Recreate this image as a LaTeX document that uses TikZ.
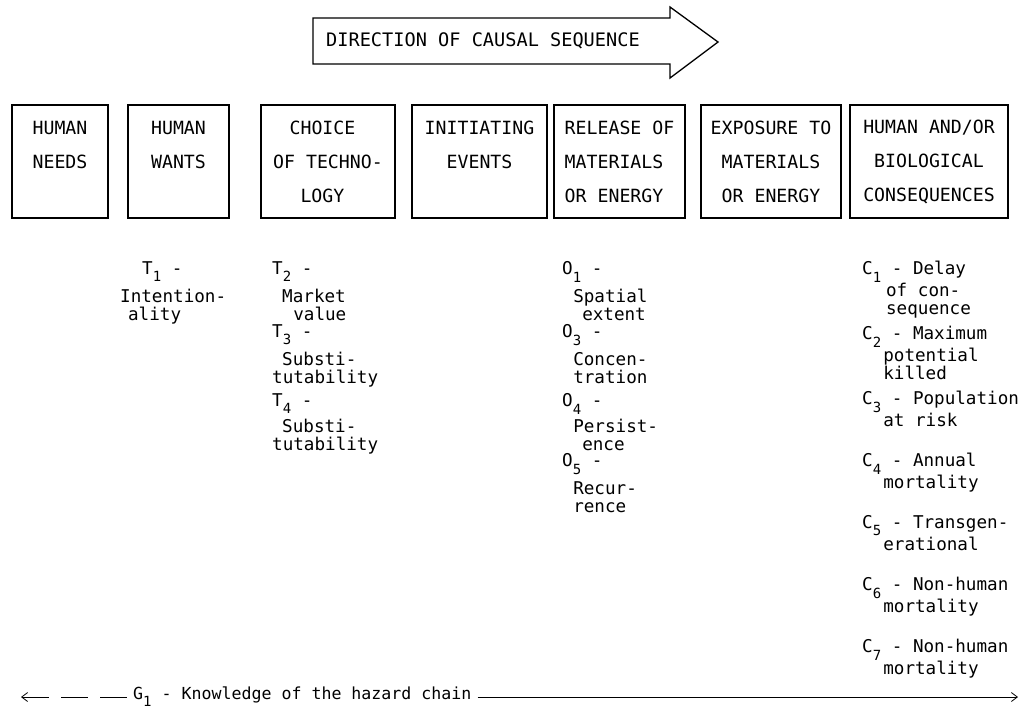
\documentclass[tikz,border=0pt]{standalone}
\usepackage{fontspec}
\usepackage{tikz}
\usetikzlibrary{arrows.meta}
\newfontfamily\typer{DejaVu Sans Mono}
\newcommand{\lowidx}[1]{\raisebox{-0.75ex}{\fontsize{14}{14}\selectfont #1}}

\begin{document}
\begin{tikzpicture}[x=1pt, y=-1pt,
  stage/.style={draw=black, line width=1.3pt, minimum width=#1, minimum height=113pt, inner sep=0pt, align=center, font=\typer\fontsize{18.2}{34}\selectfont},
  factor/.style={anchor=north west, inner sep=0pt, align=left, font=\typer\fontsize{17.6}{18}\selectfont},
  chain/.style={line width=.8pt, draw=black}
]
\useasboundingbox (0,0) rectangle (1026,721);
% direction arrow
\draw[line width=1.3pt, line join=miter] (313,18) -- (670,18) -- (670,7) -- (718,42) -- (670,78) -- (670,64) -- (313,64) -- cycle;
\node[anchor=west, inner sep=0pt, font=\typer\fontsize{18.6}{20}\selectfont] (dir) at (326,41) {DIRECTION OF CAUSAL SEQUENCE};
% stages of the hazard chain
\node[stage=96pt] (needs) at (60,161.5) {HUMAN\\NEEDS\\\mbox{}};
\node[stage=101pt] (wants) at (178.5,161.5) {HUMAN\\WANTS\\\mbox{}};
\node[stage=134pt, align=left] (tech) at (328,161.5) {\hspace*{0.9em}CHOICE\\OF TECHNO-\\\hspace*{1.5em}LOGY};
\node[stage=135pt] (init) at (479.5,161.5) {INITIATING\\EVENTS\\\mbox{}};
\node[stage=131pt, align=left] (release) at (619.5,161.5) {RELEASE OF\\MATERIALS\\OR ENERGY};
\node[stage=140pt] (expose) at (771,161.5) {EXPOSURE TO\\MATERIALS\\OR ENERGY};
\node[stage=158pt] (conseq) at (929,161.5) {HUMAN AND/OR\\BIOLOGICAL\\CONSEQUENCES};
% technology descriptors
\node[factor] (t1) at (120,261.6) {\hspace*{1.25em}T\lowidx{1} -\\[6pt]Intention-\\\hspace*{0.45em}ality};
\node[factor] (t2) at (272,261.6) {T\lowidx{2} -\\[6pt]\hspace*{0.57em}Market\\\hspace*{1.2em}value};
\node[factor] (t3) at (272,324.6) {T\lowidx{3} -\\[6pt]\hspace*{0.57em}Substi-\\tutability};
\node[factor] (t4) at (272,393.6) {T\lowidx{4} -\\[4pt]\hspace*{0.57em}Substi-\\tutability};
% release descriptors
\node[factor] (o1) at (562,261.6) {O\lowidx{1} -\\[6pt]\hspace*{0.63em}Spatial\\\hspace*{1.14em}extent};
\node[factor] (o3) at (562,324.6) {O\lowidx{3} -\\[6pt]\hspace*{0.63em}Concen-\\\hspace*{0.63em}tration};
\node[factor] (o4) at (562,393.6) {O\lowidx{4} -\\[4pt]\hspace*{0.63em}Persist-\\\hspace*{1.14em}ence};
\node[factor] (o5) at (562,453.6) {O\lowidx{5} -\\[6pt]\hspace*{0.63em}Recur-\\\hspace*{0.63em}rence};
% consequence descriptors
\node[factor] (c1) at (862,261.3) {C\lowidx{1} - Delay\\\hspace*{1.36em}of con-\\\hspace*{1.36em}sequence};
\node[factor] (c2) at (862,326.3) {C\lowidx{2} - Maximum\\\hspace*{1.2em}potential\\\hspace*{1.2em}killed};
\node[factor] (c3) at (862,391.3) {C\lowidx{3} - Population\\\hspace*{1.2em}at risk};
\node[factor] (c4) at (862,453.3) {C\lowidx{4} - Annual\\\hspace*{1.2em}mortality};
\node[factor] (c5) at (862,515.3) {C\lowidx{5} - Transgen-\\\hspace*{1.2em}erational};
\node[factor] (c6) at (862,577.3) {C\lowidx{6} - Non-human\\\hspace*{1.2em}mortality};
\node[factor] (c7) at (862,639.3) {C\lowidx{7} - Non-human\\\hspace*{1.2em}mortality};
% knowledge of the chain
\node[factor, anchor=west, font=\typer\fontsize{16.6}{18}\selectfont] (g1) at (133,697) {G\lowidx{1} - Knowledge of the hazard chain};
\coordinate (gleft) at (21,697);
\coordinate (gright) at (1018,697);
\draw[chain, {Straight Barb[length=6pt,width=9pt]}-, dash pattern=on 27pt off 12pt, shorten >=4pt] (gleft) -- (g1.west);
\draw[chain, -{Straight Barb[length=6pt,width=9pt]}, shorten <=6pt] (g1.east) -- (gright);
\end{tikzpicture}
\end{document}
